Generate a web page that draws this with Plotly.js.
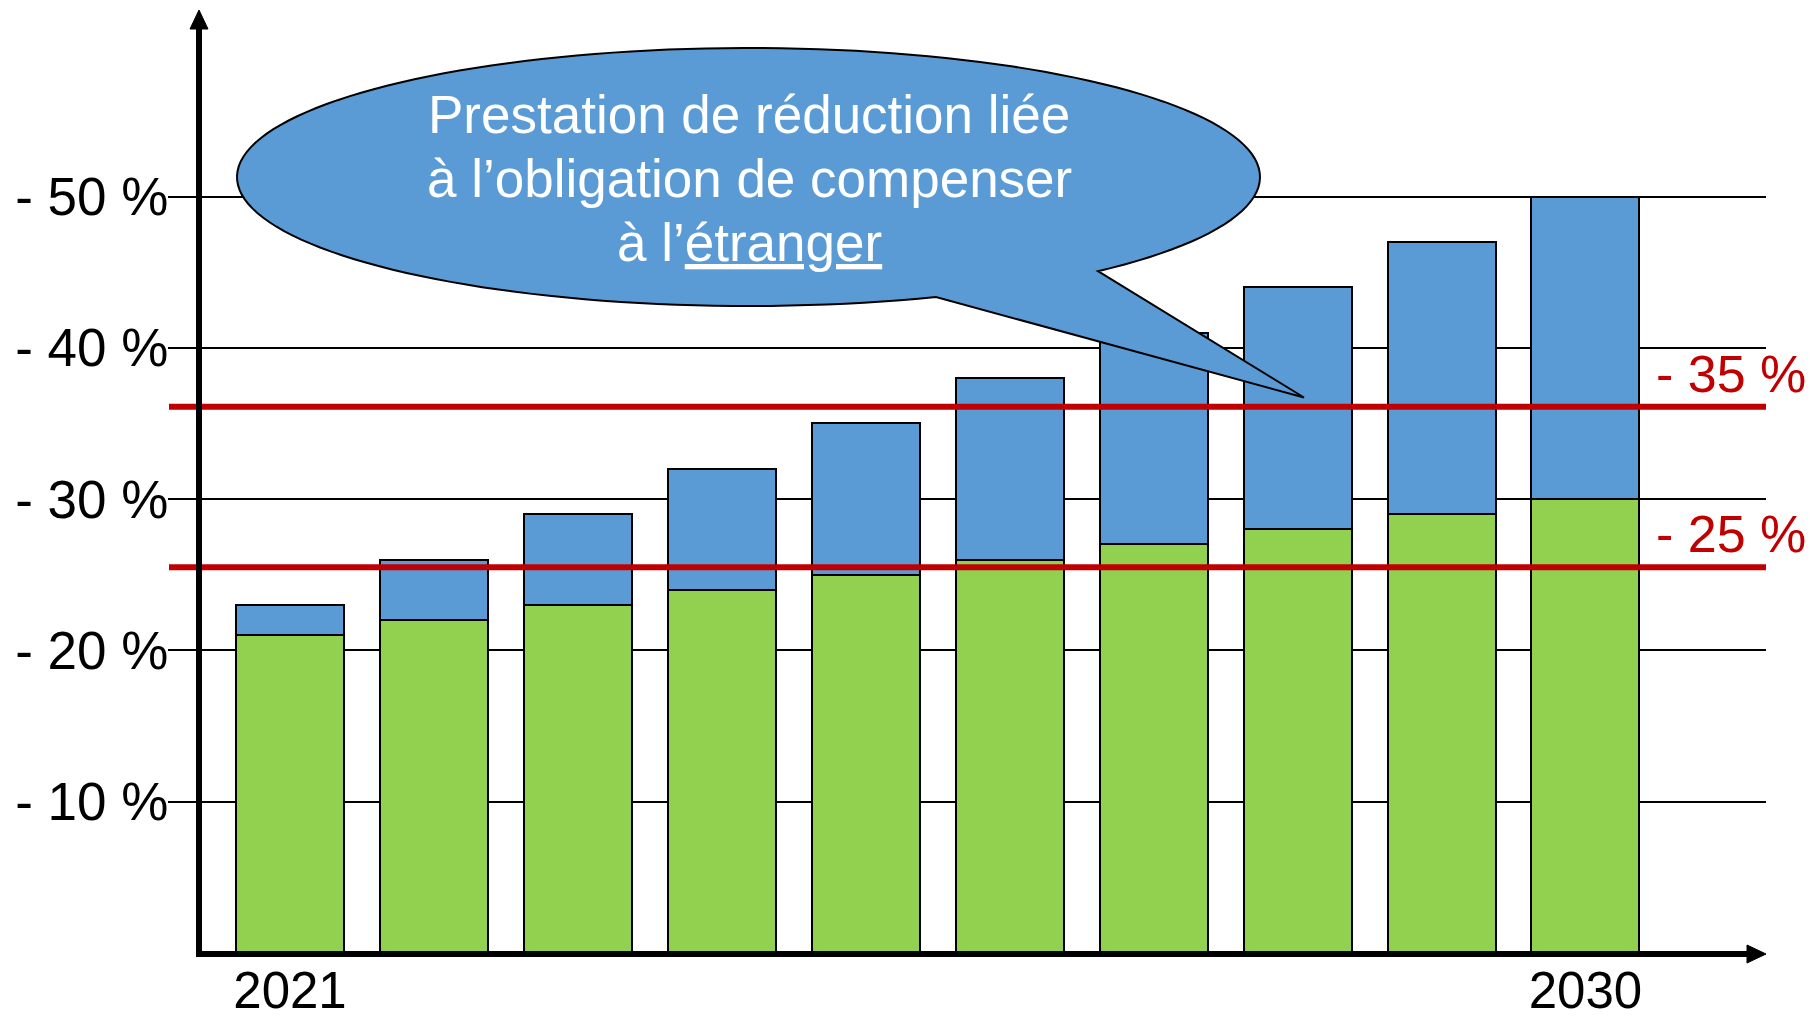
<!DOCTYPE html>
<html>
<head>
<meta charset="utf-8">
<script src="https://cdn.plot.ly/plotly-3.0.1.min.js"></script>
<style>
html,body{margin:0;padding:0;background:#ffffff;}
#chart{width:1812px;height:1019px;}
</style>
</head>
<body>
<div id="chart"></div>
<script>
// ---- data ----
const years = [2021, 2022, 2023, 2024, 2025, 2026, 2027, 2028, 2029, 2030];
const domesticReduction = [21, 22, 23, 24, 25, 26, 27, 28, 29, 30];   // green part (%)
const abroadReduction   = [2, 4, 6, 8, 10, 12, 14, 16, 18, 20];        // blue part (%)
const yTickValues = [10, 20, 30, 40, 50];
const yTickLabels = ['- 10 %', '- 20 %', '- 30 %', '- 40 %', '- 50 %'];
const xTickValues = [2021, 2030];
const xTickLabels = ['2021', '2030'];
const targetLevels = [36.1, 25.5];
const targetLabels = ['- 35 %', '- 25 %'];
const calloutLines = ['Prestation de réduction liée', 'à l’obligation de compenser', 'à l’<u>étranger</u>'];

// ---- geometry helpers (plot area in pixels) ----
const M = {l: 199, r: 46, t: 10, b: 66};
const W = 1812 - M.l - M.r, H = 1019 - M.t - M.b;
const pxX = x => (x - M.l) / W;
const pxY = y => (M.t + H - y) / H;

const GREEN = '#92D050', BLUE = '#5B9BD5', RED = '#C00000';
const FONT = '"Liberation Sans", Arial, sans-serif';

const traces = [
  {type: 'bar', x: years, y: domesticReduction, width: 0.75,
   marker: {color: GREEN, line: {color: '#000', width: 2}}, hoverinfo: 'skip'},
  {type: 'bar', x: years, y: abroadReduction, width: 0.75,
   marker: {color: BLUE, line: {color: '#000', width: 2}}, hoverinfo: 'skip'}
];

// callout bubble (ellipse + tail) as one path in paper coords
function calloutPath() {
  const cx = 748.5, cy = 177, rx = 511.5, ry = 129;
  const t0 = 68.5 * Math.PI / 180, t1 = (360 + 46.9) * Math.PI / 180;
  const n = 160;
  let d = '';
  for (let i = 0; i <= n; i++) {
    const t = t0 + (t1 - t0) * i / n;
    const x = cx + rx * Math.cos(t), y = cy + ry * Math.sin(t);
    d += (i === 0 ? 'M ' : ' L ') + pxX(x).toFixed(5) + ' ' + pxY(y).toFixed(5);
  }
  d += ' L ' + pxX(1304).toFixed(5) + ' ' + pxY(397.5).toFixed(5) + ' Z';
  return d;
}

const shapes = [];
targetLevels.forEach(v => {
  shapes.push({type: 'line', xref: 'paper', yref: 'y', x0: pxX(169), x1: 1, y0: v, y1: v,
    line: {color: RED, width: 6}, layer: 'above'});
});
// axes with arrows
shapes.push({type: 'line', xref: 'paper', yref: 'paper', x0: 0, x1: 0, y0: pxY(957), y1: pxY(27),
  line: {color: '#000', width: 6}, layer: 'above'});
shapes.push({type: 'path', xref: 'paper', yref: 'paper',
  path: `M ${pxX(190)} ${pxY(29)} L ${pxX(208)} ${pxY(29)} L ${pxX(199)} ${pxY(10)} Z`,
  fillcolor: '#000', line: {color: '#000', width: 1}, layer: 'above'});
shapes.push({type: 'line', xref: 'paper', yref: 'paper', x0: pxX(196), x1: pxX(1749), y0: pxY(954), y1: pxY(954),
  line: {color: '#000', width: 6}, layer: 'above'});
shapes.push({type: 'path', xref: 'paper', yref: 'paper',
  path: `M ${pxX(1747)} ${pxY(945)} L ${pxX(1747)} ${pxY(963)} L ${pxX(1766)} ${pxY(954)} Z`,
  fillcolor: '#000', line: {color: '#000', width: 1}, layer: 'above'});
// callout
shapes.push({type: 'path', xref: 'paper', yref: 'paper', path: calloutPath(),
  fillcolor: BLUE, line: {color: '#000', width: 2}, layer: 'above'});

const annotations = [];
targetLevels.forEach((v, i) => {
  annotations.push({xref: 'paper', yref: 'y', x: pxX(1808), y: v, xanchor: 'right', yanchor: 'bottom',
    yshift: 2, showarrow: false, text: targetLabels[i], font: {family: FONT, size: 52, color: RED}});
});
const calloutLineY = [115.5, 180, 244];
calloutLines.forEach((t, i) => {
  annotations.push({xref: 'paper', yref: 'paper', x: pxX(749), y: pxY(calloutLineY[i] - 1),
    xanchor: 'center', yanchor: 'middle', showarrow: false, text: t,
    font: {family: FONT, size: 53, color: '#fff'}});
});

const layout = {
  width: 1812, height: 1019,
  margin: M,
  paper_bgcolor: '#fff', plot_bgcolor: '#fff',
  barmode: 'stack',
  showlegend: false,
  font: {family: FONT, color: '#000'},
  xaxis: {
    range: [2021 - 91 / 143.94, 2021 + (1766 - 290) / 143.94],
    tickvals: xTickValues, ticktext: xTickLabels,
    showgrid: false, zeroline: false, showline: false, ticks: '',
    ticklabelstandoff: 3,
    tickfont: {family: FONT, size: 51, color: '#000'}
  },
  yaxis: {
    range: [0, (953 - 10) / 15.13],
    tickvals: yTickValues, ticktext: yTickLabels,
    showgrid: true, gridcolor: '#000', gridwidth: 2,
    zeroline: false, showline: false,
    ticks: 'outside', ticklen: 30, tickwidth: 2, tickcolor: '#000',
    ticklabelstandoff: -11,
    tickfont: {family: FONT, size: 53, color: '#000'}
  },
  shapes: shapes,
  annotations: annotations
};

Plotly.newPlot('chart', traces, layout, {staticPlot: true, displayModeBar: false});
</script>
</body>
</html>
